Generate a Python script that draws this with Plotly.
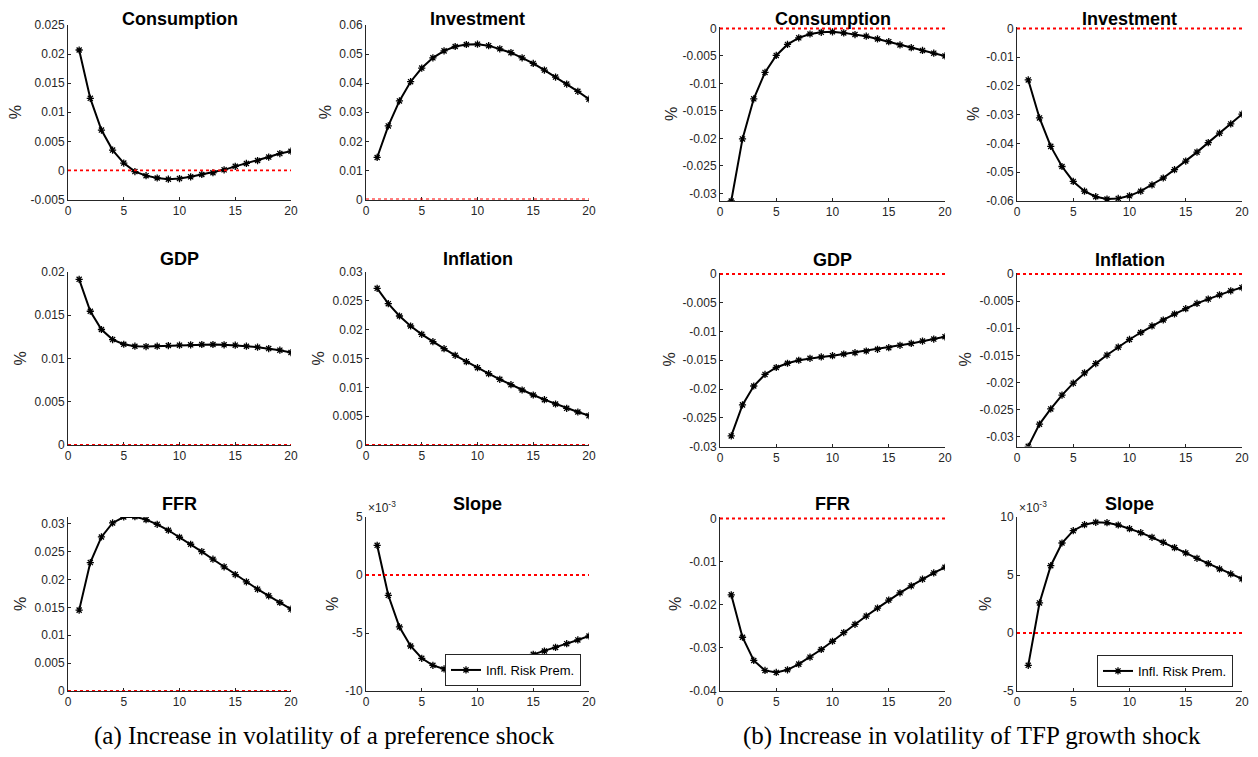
import plotly.graph_objects as go

# page body has an 8px margin, so the figure is a bit smaller than the window
W, H = 1258, 757
PAD = 8
FW, FH = W - PAD, H - PAD

horizon = [1, 2, 3, 4, 5, 6, 7, 8, 9, 10, 11, 12, 13, 14, 15, 16, 17, 18, 19, 20]

# (a) increase in volatility of a preference shock
pref_consumption = [0.0207, 0.01239, 0.00694, 0.0035, 0.00126, -0.0002, -0.0009, -0.0013, -0.0015, -0.0014,
                    -0.0011, -0.0007, -0.0004, 0.0001, 0.0007, 0.0012, 0.0017, 0.0023, 0.0029, 0.0033]
pref_investment = [0.01445, 0.0253, 0.0339, 0.0405, 0.0452, 0.0487, 0.0511, 0.0526, 0.0533, 0.0534,
                   0.0529, 0.0518, 0.0505, 0.0487, 0.0468, 0.0445, 0.0421, 0.0397, 0.0372, 0.0345]
pref_gdp = [0.01915, 0.01546, 0.01335, 0.01219, 0.01165, 0.01142, 0.01138, 0.01142, 0.0115, 0.01154,
            0.01158, 0.01162, 0.01162, 0.01158, 0.01154, 0.01142, 0.01131, 0.01115, 0.01096, 0.01069]
pref_inflation = [0.02717, 0.02451, 0.02237, 0.02064, 0.01919, 0.01792, 0.0167, 0.01555, 0.01445, 0.01341,
                  0.01237, 0.01139, 0.01046, 0.00954, 0.00867, 0.00786, 0.00711, 0.00636, 0.00572, 0.00509]
pref_ffr = [0.0145, 0.02303, 0.02762, 0.03013, 0.0312, 0.03126, 0.03073, 0.02989, 0.02882, 0.02757,
            0.02631, 0.025, 0.02363, 0.02226, 0.02088, 0.01957, 0.01826, 0.01706, 0.01587, 0.01468]
pref_slope = [2.56, -1.75, -4.48, -6.12, -7.18, -7.79, -8.10, -8.25, -8.28, -8.20,
              -8.02, -7.75, -7.45, -7.16, -6.84, -6.55, -6.24, -5.92, -5.60, -5.26]  # x 1e-3

# (b) increase in volatility of TFP growth shock
tfp_consumption = [-0.0314, -0.0201, -0.0128, -0.0080, -0.0049, -0.0029, -0.0017, -0.0010, -0.0007, -0.0006,
                   -0.0008, -0.0011, -0.0014, -0.0019, -0.0024, -0.0030, -0.0035, -0.0040, -0.0045, -0.0050]
tfp_investment = [-0.0179, -0.0311, -0.0410, -0.0480, -0.0532, -0.0566, -0.0585, -0.0593, -0.0591, -0.0582,
                  -0.0566, -0.0544, -0.0520, -0.0491, -0.0461, -0.0430, -0.0397, -0.0364, -0.0332, -0.0298]
tfp_gdp = [-0.02816, -0.02276, -0.01948, -0.01747, -0.01626, -0.01552, -0.015, -0.01466, -0.01443, -0.0142,
           -0.01391, -0.01368, -0.01339, -0.0131, -0.01282, -0.01241, -0.01207, -0.01167, -0.01132, -0.01092]
tfp_inflation = [-0.03177, -0.02768, -0.02488, -0.02232, -0.02012, -0.01823, -0.01652, -0.01494, -0.01348, -0.01207,
                 -0.01079, -0.00957, -0.00848, -0.00738, -0.0064, -0.00543, -0.00463, -0.00384, -0.00311, -0.0025]
tfp_ffr = [-0.01769, -0.02754, -0.03292, -0.03523, -0.03569, -0.03508, -0.03377, -0.03215, -0.03038, -0.02846,
           -0.02646, -0.02454, -0.02262, -0.02077, -0.01892, -0.01723, -0.01562, -0.01408, -0.01262, -0.01131]
tfp_slope = [-2.79, 2.59, 5.80, 7.76, 8.82, 9.34, 9.54, 9.51, 9.31, 8.99,
             8.65, 8.25, 7.82, 7.36, 6.90, 6.44, 5.98, 5.52, 5.09, 4.66]  # x 1e-3

titles = ['Consumption', 'Investment', 'GDP', 'Inflation', 'FFR', 'Slope']

pref_ranges = [[-0.005, 0.025], [0, 0.06], [0, 0.02], [0, 0.03], [0, 0.0312], [-10, 5]]
tfp_ranges = [[-0.0314, 0], [-0.06, 0], [-0.03, 0], [-0.0318, 0], [-0.04, 0], [-5, 10]]

pref_ticks = [[-0.005, 0, 0.005, 0.01, 0.015, 0.02, 0.025],
              [0, 0.01, 0.02, 0.03, 0.04, 0.05, 0.06],
              [0, 0.005, 0.01, 0.015, 0.02],
              [0, 0.005, 0.01, 0.015, 0.02, 0.025, 0.03],
              [0, 0.005, 0.01, 0.015, 0.02, 0.025, 0.03],
              [-10, -5, 0, 5]]
tfp_ticks = [[-0.03, -0.025, -0.02, -0.015, -0.01, -0.005, 0],
             [-0.06, -0.05, -0.04, -0.03, -0.02, -0.01, 0],
             [-0.03, -0.025, -0.02, -0.015, -0.01, -0.005, 0],
             [-0.03, -0.025, -0.02, -0.015, -0.01, -0.005, 0],
             [-0.04, -0.03, -0.02, -0.01, 0],
             [-5, 0, 5, 10]]
x_ticks = [0, 5, 10, 15, 20]

captions = ['(a) Increase in volatility of a preference shock',
            '(b) Increase in volatility of TFP growth shock']

# layout in window pixels: axes boxes, "%" label positions
col_px = [(68, 291), (366, 589), (720, 945), (1017, 1242)]
rows_px = [[(25, 199.5), (272, 445), (517, 691)],
           [(27, 201), (272.5, 446.5), (517, 691)]]
pct_px = [[[15, 325], [20, 318], [20, 332]],
          [[671, 973], [669, 965], [675, 985]]]
caption_x = [324, 972]


def xp(px):
    return (px - PAD) / FW


def yp(py):
    return 1 - (py - PAD) / FH


AX = '#262626'
SANS = 'Liberation Sans, Arial, sans-serif'
TICKFONT = dict(family=SANS, size=12, color=AX)

fig = go.Figure()
annotations = []
shapes = []

groups = [([pref_consumption, pref_investment, pref_gdp, pref_inflation, pref_ffr, pref_slope],
           pref_ranges, pref_ticks),
          ([tfp_consumption, tfp_investment, tfp_gdp, tfp_inflation, tfp_ffr, tfp_slope],
           tfp_ranges, tfp_ticks)]

n = 0
for g, (series, ranges, ticks) in enumerate(groups):
    for i, title in enumerate(titles):
        n += 1
        row, col = i // 2, i % 2 + 2 * g
        x0, x1 = col_px[col]
        top, bot = rows_px[g][row]
        sfx = '' if n == 1 else str(n)
        is_slope = title == 'Slope'

        fig.add_trace(go.Scatter(
            x=horizon, y=series[i], mode='lines+markers',
            xaxis='x' + sfx, yaxis='y' + sfx,
            name='Infl. Risk Prem.', showlegend=is_slope,
            legend='legend' if g == 0 else 'legend2',
            line=dict(color='black', width=2),
            marker=dict(symbol='asterisk-open', size=6, color='black',
                        line=dict(color='black', width=1.3)),
        ))

        # keep a hair of room above the top edge so the zero line there is not clipped
        lo, hi = ranges[i]
        if hi == 0:
            hi = (hi - lo) * 1.5 / (bot - top)

        common = dict(showline=True, linecolor=AX, linewidth=1, showgrid=False, zeroline=False,
                      ticks='inside', ticklen=3, tickcolor=AX, tickfont=TICKFONT, automargin=False)
        fig.layout['xaxis' + sfx] = dict(domain=[xp(x0), xp(x1)], anchor='y' + sfx,
                                          range=[0, 20], tickvals=x_ticks, **common)
        fig.layout['yaxis' + sfx] = dict(domain=[yp(bot), yp(top)], anchor='x' + sfx,
                                          range=[lo, hi], tickvals=ticks[i],
                                          ticktext=['{:g}'.format(v) for v in ticks[i]], **common)

        # red dotted zero line
        shapes.append(dict(type='line', xref='x' + sfx, yref='y' + sfx,
                           x0=0, x1=20, y0=0, y1=0, layer='above',
                           line=dict(color='red', width=1.8, dash='dot')))

        if row == 0:
            # top row titles sit against the top edge of the figure
            ty, tanchor = 1, 'top'
        else:
            ty, tanchor = yp(top - 13), 'middle'
        annotations.append(dict(text='<b>' + title + '</b>', xref='paper', yref='paper',
                                x=xp((x0 + x1) / 2), y=ty,
                                xanchor='center', yanchor=tanchor, showarrow=False, borderpad=0,
                                font=dict(family=SANS, size=18, color='black')))
        annotations.append(dict(text='%', xref='paper', yref='paper',
                                x=xp(pct_px[g][row][i % 2]), y=yp((top + bot) / 2), textangle=-90,
                                xanchor='center', yanchor='middle', showarrow=False,
                                font=dict(family=SANS, size=16, color=AX)))
        if is_slope:
            annotations.append(dict(text='\u00d710<sup>-3</sup>', xref='paper', yref='paper',
                                    x=xp(x0), y=yp(top), xanchor='left', yanchor='bottom',
                                    showarrow=False, font=dict(family=SANS, size=12, color=AX)))

for g, text in enumerate(captions):
    annotations.append(dict(text=text, xref='paper', yref='paper', x=xp(caption_x[g]), y=yp(736),
                            xanchor='center', yanchor='middle', showarrow=False,
                            font=dict(family='Liberation Serif, Times New Roman, serif', size=25, color='black')))

legend_style = dict(xanchor='right', yanchor='middle', bgcolor='white', bordercolor=AX, borderwidth=1,
                    font=dict(family=SANS, size=13, color='black'),
                    itemwidth=30, tracegroupgap=0)

fig.update_layout(
    width=FW, height=FH,
    margin=dict(l=0, r=0, t=0, b=0, autoexpand=False),
    paper_bgcolor='white', plot_bgcolor='white',
    showlegend=True,
    legend=dict(x=xp(581), y=yp(670), **legend_style),
    legend2=dict(x=xp(1233), y=yp(671), **legend_style),
    annotations=annotations,
    shapes=shapes,
)

fig.write_html('out.html')
